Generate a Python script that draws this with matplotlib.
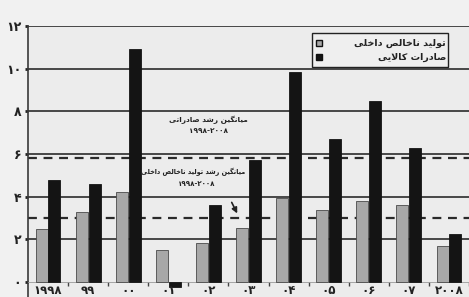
import numpy as np
import matplotlib.pyplot as plt
from matplotlib.patches import Rectangle

# ============================================================
# Data
# ============================================================
YEARS = ['۱۹۹۸', '۹۹', '۰۰', '۰۱', '۰۲', '۰۳', '۰۴', '۰۵', '۰۶', '۰۷', '۲۰۰۸']
GDP_GROWTH = [2.5, 3.3, 4.2, 1.5, 1.85, 2.55, 3.95, 3.4, 3.8, 3.6, 1.7]
EXPORT_GROWTH = [4.8, 4.6, 10.9, -0.25, 3.6, 5.7, 9.85, 6.7, 8.5, 6.3, 2.25]
AVG_EXPORT = 5.8
AVG_GDP = 3.0
Y_TICKS = [0, 2, 4, 6, 8, 10, 12]
Y_LABELS = ['۰', '۲', '۴', '۶', '۸', '۱۰', '۱۲']

LEGEND_GDP = 'تولید ناخالص داخلی'
LEGEND_EXP = 'صادرات کالایی'
NOTE_EXP = 'میانگین رشد صادراتی'
NOTE_GDP = 'میانگین رشد تولید ناخالص داخلی'
NOTE_RANGE = '۱۹۹۸-۲۰۰۸'

# ============================================================
# Minimal Persian shaping (matplotlib has no RTL shaping)
# ============================================================
FORMS = {
    '\u0627': '\uFE8D\uFE8E', '\u062F': '\uFEA9\uFEAA',
    '\u0631': '\uFEAD\uFEAE', '\u0648': '\uFEED\uFEEE',
    '\u062A': '\uFE95\uFE96\uFE97\uFE98', '\u0644': '\uFEDD\uFEDE\uFEDF\uFEE0',
    '\u06CC': '\uFBFC\uFBFD\uFBFE\uFBFF', '\u0646': '\uFEE5\uFEE6\uFEE7\uFEE8',
    '\u062E': '\uFEA5\uFEA6\uFEA7\uFEA8', '\u0635': '\uFEB9\uFEBA\uFEBB\uFEBC',
    '\u06A9': '\uFB8E\uFB8F\uFB90\uFB91', '\u06AF': '\uFB92\uFB93\uFB94\uFB95',
    '\u0645': '\uFEE1\uFEE2\uFEE3\uFEE4', '\u0634': '\uFEB5\uFEB6\uFEB7\uFEB8',
}


def fa(text):
    out = []
    i = 0
    while i < len(text):
        c = text[i]
        if c not in FORMS:
            out.append(c)
            i += 1
            continue
        prev = text[i - 1] if i > 0 else ''
        joins_prev = prev in FORMS and len(FORMS[prev]) == 4
        if c == '\u0644' and i + 1 < len(text) and text[i + 1] == '\u0627':
            out.append('\uFEFC' if joins_prev else '\uFEFB')
            i += 2
            continue
        nxt = text[i + 1] if i + 1 < len(text) else ''
        joins_next = len(FORMS[c]) == 4 and nxt in FORMS
        f = FORMS[c]
        if joins_prev and joins_next:
            out.append(f[3])
        elif joins_prev:
            out.append(f[1])
        elif joins_next:
            out.append(f[2])
        else:
            out.append(f[0])
        i += 1
    return ''.join(reversed(out))


plt.rcParams['font.family'] = ['DejaVu Sans']

# ============================================================
# Plot
# ============================================================
fig = plt.figure(figsize=(4.69, 2.97), dpi=100, facecolor='#f1f1f1')
ax = fig.add_axes([28 / 469, 0, 1 - 28 / 469, 1 - 26 / 297])
ax.set_facecolor('#ececec')

x = np.arange(len(YEARS))
w = 0.3
ax.bar(x - 0.16, GDP_GROWTH, w, color='#a8a8a8', edgecolor='#4a4a4a',
       linewidth=0.6, zorder=3)
ax.bar(x + 0.16, EXPORT_GROWTH, w, color='#141414', edgecolor='#141414',
       linewidth=0.6, zorder=3)

for yv in Y_TICKS[1:]:
    ax.axhline(yv, color='#3a3a3a', linewidth=1.3, zorder=1)
ax.axhline(AVG_EXPORT, color='#2a2a2a', linewidth=1.6, dashes=(4, 3), zorder=2)
ax.axhline(AVG_GDP, color='#2a2a2a', linewidth=1.6, dashes=(4, 3), zorder=2)

ax.set_xlim(-0.5, 10.45)
ax.set_ylim(-0.7, 12)

for s in ['top', 'right']:
    ax.spines[s].set_visible(False)
ax.spines['left'].set_color('#3a3a3a')
ax.spines['left'].set_linewidth(1.2)
ax.spines['bottom'].set_position(('data', 0))
ax.spines['bottom'].set_color('#9a9a9a')
ax.spines['bottom'].set_linewidth(0.6)

ax.set_xticks(x + 0.5)
ax.set_xticklabels([])
ax.tick_params(axis='x', length=3, width=1, color='#444444', direction='out')

ax.set_yticks(Y_TICKS)
ax.set_yticklabels(Y_LABELS, fontsize=9, fontweight='bold', color='#222222')
ax.tick_params(axis='y', length=2, width=2, color='#222222', pad=3)

for i, lab in enumerate(YEARS):
    ax.text(i, -0.4, lab, ha='center', va='center', fontsize=8.5,
            fontweight='bold', color='#222222')

# annotations for the average lines
ax.text(4.0, 7.6, fa(NOTE_EXP), ha='center', va='center', fontsize=5.3,
        fontweight='bold', color='#222222')
ax.text(4.0, 7.1, NOTE_RANGE, ha='center', va='center', fontsize=5.3,
        fontweight='bold', color='#222222')
ax.text(3.62, 5.16, fa(NOTE_GDP), ha='center', va='center', fontsize=4.7,
        fontweight='bold', color='#222222')
ax.text(3.7, 4.6, NOTE_RANGE, ha='center', va='center', fontsize=5.1,
        fontweight='bold', color='#222222')
ax.annotate('', xy=(4.75, 3.1), xytext=(4.55, 3.85),
            arrowprops=dict(arrowstyle='-|>', color='#222222', lw=1.2,
                            mutation_scale=8))

# legend box drawn by hand so the Persian text can be right-aligned
bx0, bx1 = (312 - 28) / 441, (448 - 28) / 441
by0, by1 = (297 - 67) / 271, (297 - 33) / 271
ax.add_patch(Rectangle((bx0, by0), bx1 - bx0, by1 - by0, transform=ax.transAxes,
                       facecolor='#efefef', edgecolor='#222222', linewidth=1.0,
                       zorder=5))
rows = [(LEGEND_GDP, '#a8a8a8'), (LEGEND_EXP, '#141414')]
for k, (lab, col) in enumerate(rows):
    yy = by1 - (by1 - by0) * (0.3 + 0.42 * k)
    ax.plot([bx0 + 0.016], [yy], marker='s', markersize=5, color=col,
            markeredgecolor='#111111', transform=ax.transAxes, zorder=6)
    ax.text(bx1 - 0.004, yy, fa(lab), ha='right', va='center', fontsize=6.8,
            fontweight='bold', color='#222222', transform=ax.transAxes, zorder=6)

plt.savefig('out.png', dpi=100, facecolor=fig.get_facecolor())
plt.close()
